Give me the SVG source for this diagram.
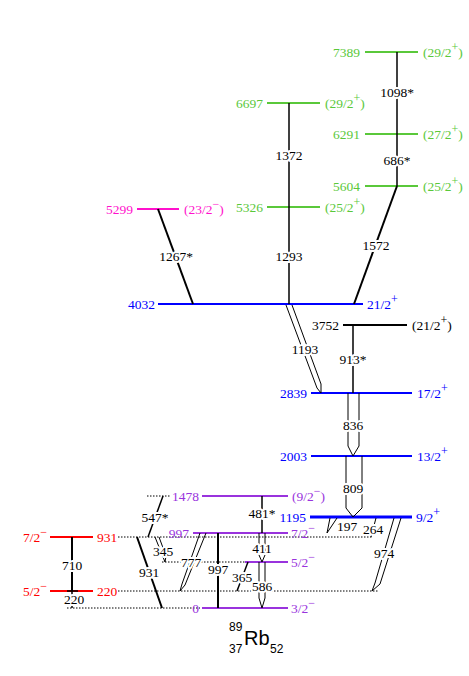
<svg xmlns="http://www.w3.org/2000/svg" width="469" height="676" viewBox="0 0 469 676">
<style>
text{font-family:"Liberation Serif","Times New Roman",serif;font-size:13.5px}
.l{stroke-width:2}
.g{stroke:#5ac83a}.gt{fill:#5ac83a}
.m{stroke:#ff11cc}.mt{fill:#ff11cc}
.b{stroke:#0000ff}.bt{fill:#0000ff}
.p{stroke:#9933dd}.pt{fill:#9933dd}
.r{stroke:#ff0000}.rt{fill:#ff0000}
.k{stroke:#000}.kt{fill:#000}
.e{text-anchor:end}
.tr line,.tr path{stroke:#000;fill:none;stroke-width:1.5}
.tr .th{stroke-width:2}
.tr .dl{stroke-width:1}
.dot line{stroke:#000;stroke-width:1;stroke-dasharray:1.5 1.5}
.tl{text-anchor:middle;fill:#000;stroke:#fff;stroke-width:4;paint-order:stroke;stroke-linejoin:round}
.s{font-size:12px}
.ti text{font-family:"Liberation Sans",Arial,sans-serif;fill:#000}
.ti .t12{font-size:12px}
.ti .t20{font-size:20px}
</style>
<g id="dotted" class="dot">
<line x1="147" y1="496" x2="170" y2="496"/>
<line x1="118" y1="537" x2="373" y2="537"/>
<line x1="162" y1="562" x2="245" y2="562"/>
<line x1="118" y1="591" x2="378" y2="591"/>
<line x1="67" y1="608" x2="200" y2="608"/>
</g>
<g id="lvl7389"><line class="l g" x1="365" y1="52" x2="418" y2="52"/><text class="gt e" x="360" y="56.5">7389</text><text class="gt" x="423" y="56.5">(29/2<tspan class="s" dy="-6">+</tspan><tspan dy="6">)</tspan></text></g>
<g id="lvl6697"><line class="l g" x1="267" y1="103" x2="320" y2="103"/><text class="gt e" x="263" y="107.5">6697</text><text class="gt" x="325" y="107.5">(29/2<tspan class="s" dy="-6">+</tspan><tspan dy="6">)</tspan></text></g>
<g id="lvl6291"><line class="l g" x1="365" y1="134" x2="418" y2="134"/><text class="gt e" x="360" y="138.5">6291</text><text class="gt" x="423" y="138.5">(27/2<tspan class="s" dy="-6">+</tspan><tspan dy="6">)</tspan></text></g>
<g id="lvl5604"><line class="l g" x1="365" y1="186" x2="418" y2="186"/><text class="gt e" x="360" y="190.5">5604</text><text class="gt" x="423" y="190.5">(25/2<tspan class="s" dy="-6">+</tspan><tspan dy="6">)</tspan></text></g>
<g id="lvl5326"><line class="l g" x1="267" y1="207" x2="320" y2="207"/><text class="gt e" x="263" y="211.5">5326</text><text class="gt" x="325" y="211.5">(25/2<tspan class="s" dy="-6">+</tspan><tspan dy="6">)</tspan></text></g>
<g id="lvl5299"><line class="l m" x1="137" y1="209" x2="179" y2="209"/><text class="mt e" x="133" y="213.5">5299</text><text class="mt" x="184" y="213.5">(23/2<tspan class="s" dy="-6">−</tspan><tspan dy="6">)</tspan></text></g>
<g id="lvl4032"><line class="l b" x1="158" y1="304" x2="363" y2="304"/><text class="bt e" x="155" y="308.5">4032</text><text class="bt" x="367" y="308.5">21/2<tspan class="s" dy="-6">+</tspan></text></g>
<g id="lvl3752"><line class="l k" x1="343" y1="325" x2="407" y2="325"/><text class="kt e" x="339" y="329.5">3752</text><text class="kt" x="412" y="329.5">(21/2<tspan class="s" dy="-6">+</tspan><tspan dy="6">)</tspan></text></g>
<g id="lvl2839"><line class="l b" x1="311" y1="393" x2="412" y2="393"/><text class="bt e" x="307" y="397.5">2839</text><text class="bt" x="417" y="397.5">17/2<tspan class="s" dy="-6">+</tspan></text></g>
<g id="lvl2003"><line class="l b" x1="311" y1="456" x2="412" y2="456"/><text class="bt e" x="307" y="460.5">2003</text><text class="bt" x="417" y="460.5">13/2<tspan class="s" dy="-6">+</tspan></text></g>
<g id="lvl1195"><line class="b" stroke-width="3" x1="310" y1="517" x2="412" y2="517"/><text class="bt e" x="306" y="521.5">1195</text><text class="bt" x="416" y="521.5">9/2<tspan class="s" dy="-6">+</tspan></text></g>
<g id="lvl1478"><line class="l p" x1="202" y1="496" x2="288" y2="496"/><text class="pt e" x="199" y="500.5">1478</text><text class="pt" x="292" y="500.5">(9/2<tspan class="s" dy="-6">−</tspan><tspan dy="6">)</tspan></text></g>
<g id="lvl997"><line class="l p" x1="193" y1="533" x2="288" y2="533"/><text class="pt e" x="189" y="537.5">997</text><text class="pt" x="291" y="537.5">7/2<tspan class="s" dy="-6">−</tspan></text></g>
<g id="lvl586"><line class="l p" x1="245" y1="562" x2="288" y2="562"/><text class="pt" x="291" y="566.5">5/2<tspan class="s" dy="-6">−</tspan></text></g>
<g id="lvl0"><line class="l p" x1="202" y1="608" x2="288" y2="608"/><text class="pt e" x="199" y="612.5">0</text><text class="pt" x="291" y="612.5">3/2<tspan class="s" dy="-6">−</tspan></text></g>
<g id="lvl931r"><line class="l r" x1="50" y1="537" x2="93" y2="537"/><text class="rt e" x="47" y="541.5">7/2<tspan class="s" dy="-6">−</tspan></text><text class="rt" x="97" y="541.5">931</text></g>
<g id="lvl220r"><line class="l r" x1="50" y1="591" x2="93" y2="591"/><text class="rt e" x="47" y="595.5">5/2<tspan class="s" dy="-6">−</tspan></text><text class="rt" x="97" y="595.5">220</text></g>
<g id="transitions" class="tr">
<line x1="397" y1="52" x2="397" y2="134"/><text class="tl" x="397" y="97">1098*</text>
<line x1="397" y1="134" x2="397" y2="186"/><text class="tl" x="397" y="165">686*</text>
<line x1="289" y1="103" x2="289" y2="207"/><text class="tl" x="289" y="160">1372</text>
<line x1="289" y1="207" x2="289" y2="304"/><text class="tl" x="289" y="261">1293</text>
<line class="th" x1="397" y1="186" x2="354" y2="304"/><text class="tl" x="376" y="250">1572</text>
<line class="th" x1="158" y1="209" x2="193" y2="304"/><text class="tl" x="176" y="261">1267*</text>
<path class="dl" d="M286,305 L317,388 L321,393 L321,384 L292,305"/><text class="tl" x="305" y="354">1193</text>
<line x1="353" y1="325" x2="353" y2="393"/><text class="tl" x="353" y="364">913*</text>
<path class="dl" d="M348,393 L348,446 L353,456 L359,446 L359,393"/><text class="tl" x="353" y="430">836</text>
<path class="dl" d="M346,456 L346,508 L353,517 L362,508 L362,456"/><text class="tl" x="353" y="493">809</text>
<path class="dl" d="M330,518 L327,533 L337,518"/><text class="tl" x="347" y="531">197</text>
<line class="dl" x1="376" y1="518" x2="371" y2="537"/><text class="tl" x="373" y="534">264</text>
<path class="dl" d="M394,518 L375,583 L372,591 L380,584 L401,518"/><text class="tl" x="384" y="558">974</text>
<line x1="262" y1="496" x2="262" y2="533"/><text class="tl" x="262" y="518">481*</text>
<path class="dl" d="M259,533 L259,555 L262,562 L265,555 L265,533"/><text class="tl" x="262" y="553">411</text>
<path class="dl" d="M259,562 L259,598 L262,608 L265,598 L265,562"/><text class="tl" x="262" y="591">586</text>
<line x1="248" y1="562" x2="237" y2="591"/><text class="tl" x="242" y="582">365</text>
<line class="th" x1="218" y1="533" x2="218" y2="608"/><text class="tl" x="218" y="574">997</text>
<path class="dl" d="M200,533 L182,584 L180,591 L185,585 L206,533"/><text class="tl" x="191" y="567">777</text>
<path class="dl" d="M155,537 L163,557 L165,562 L166,556 L159,537"/><text class="tl" x="163" y="556">345</text>
<line class="th" x1="137" y1="537" x2="162" y2="608"/><text class="tl" x="149" y="577">931</text>
<line x1="163" y1="496" x2="148" y2="537"/><text class="tl" x="155" y="522">547*</text>
<line class="th" x1="72" y1="537" x2="72" y2="591"/><line x1="67" y1="591" x2="78" y2="591"/><text class="tl" x="72" y="570">710</text>
<line x1="72" y1="591" x2="72" y2="608"/><text class="tl" x="74" y="604">220</text>
</g>
<g id="title" class="ti">
<text class="t12" x="229" y="631">89</text>
<text class="t20" x="244" y="645">Rb</text>
<text class="t12" x="229" y="653">37</text>
<text class="t12" x="270" y="653">52</text>
</g>
</svg>
